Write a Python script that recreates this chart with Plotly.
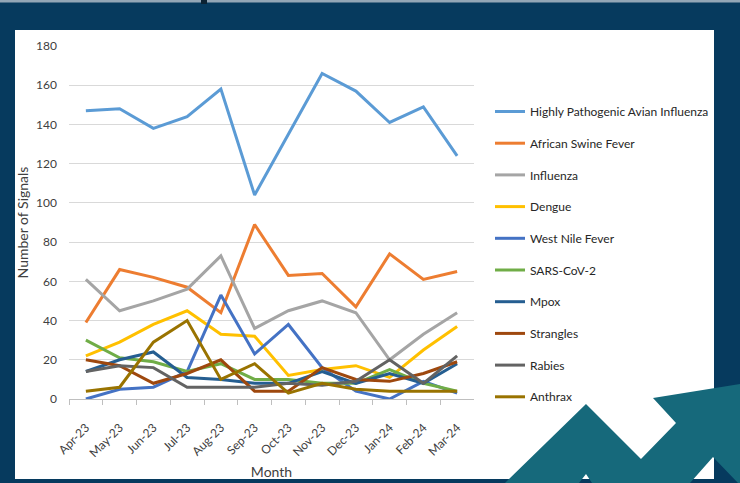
import plotly.graph_objects as go

W, H = 740, 483

months = ["Apr-23", "May-23", "Jun-23", "Jul-23", "Aug-23", "Sep-23",
          "Oct-23", "Nov-23", "Dec-23", "Jan-24", "Feb-24", "Mar-24"]

hpai = [147, 148, 138, 144, 158, 104, 135, 166, 157, 141, 149, 124]
asf = [39, 66, 62, 57, 44, 89, 63, 64, 47, 74, 61, 65]
influenza = [61, 45, 50, 56, 73, 36, 45, 50, 44, 20, 33, 44]
dengue = [22, 29, 38, 45, 33, 32, 12, 15, 17, 11, 25, 37]
west_nile = [0, 5, 6, 14, 53, 23, 38, 16, 4, 0, 9, 3]
sars_cov_2 = [30, 21, 19, 14, 18, 10, 10, 8, 8, 15, 8, 4]
mpox = [14, 20, 24, 11, 10, 8, 8, 14, 8, 13, 8, 18]
strangles = [20, 17, 8, 13, 20, 4, 4, 16, 10, 9, 13, 19]
rabies = [14, 17, 16, 6, 6, 6, 8, 7, 9, 20, 8, 22]
anthrax = [4, 6, 29, 40, 10, 18, 3, 8, 5, 4, 4, 4]

series_names = ["Highly Pathogenic Avian Influenza", "African Swine Fever", "Influenza",
                "Dengue", "West Nile Fever", "SARS-CoV-2", "Mpox", "Strangles",
                "Rabies", "Anthrax"]
series_values = [hpai, asf, influenza, dengue, west_nile, sars_cov_2, mpox,
                 strangles, rabies, anthrax]
series_colors = ["#5B9BD5", "#ED7D31", "#A5A5A5", "#FFC000", "#4472C4",
                 "#70AD47", "#255E91", "#9E480E", "#636363", "#997300"]

y_ticks = [0, 20, 40, 60, 80, 100, 120, 140, 160, 180]

NAVY = "#063A5E"
TEAL = "#16697B"
FONT = "Lato"


def px(x):
    return x / W


def py(y):
    return 1 - y / H


fig = go.Figure()
for name, vals, col in zip(series_names, series_values, series_colors):
    fig.add_trace(go.Scatter(
        x=months, y=vals, name=name, mode="lines",
        line=dict(color=col, width=3),
        legendgroup=name,
    ))

shapes = [
    # white chart panel
    dict(type="rect", xref="paper", yref="paper", x0=px(15), x1=px(714),
         y0=py(479), y1=py(30), fillcolor="white", line=dict(width=0), layer="below"),
    # top light strip
    dict(type="rect", xref="paper", yref="paper", x0=0, x1=1,
         y0=py(2.5), y1=1, fillcolor="#93A6B6", line=dict(width=0), layer="below"),
    dict(type="rect", xref="paper", yref="paper", x0=px(201), x1=px(207),
         y0=py(4), y1=1, fillcolor="#0B2233", line=dict(width=0), layer="below"),
]

arrow_pts = [(505, 483), (586, 404), (641, 459), (676, 423), (653, 398), (740, 384),
             (740, 483), (738, 483), (713, 457), (690, 483), (592, 483), (586, 474),
             (579, 483)]
path = "M " + " L ".join(f"{px(x):.5f},{py(y):.5f}" for x, y in arrow_pts) + " Z"
shapes.append(dict(type="path", xref="paper", yref="paper", path=path,
                   fillcolor=TEAL, line=dict(width=0), layer="above"))

fig.update_layout(
    width=W, height=H,
    margin=dict(l=0, r=0, t=0, b=0),
    paper_bgcolor=NAVY,
    plot_bgcolor="white",
    font=dict(family=FONT, color="#404040"),
    shapes=shapes,
    xaxis=dict(
        domain=[px(69), px(474)],
        type="category",
        range=[-0.5, len(months) - 0.5],
        tickangle=-45,
        tickson="boundaries",
        ticks="outside", ticklen=5, tickcolor="#BFBFBF",
        showline=True, linecolor="#BFBFBF", linewidth=1,
        showgrid=False, zeroline=False,
        tickfont=dict(size=12, color="#404040", family=FONT),
        ticklabelstandoff=16,
        title=dict(text="Month", font=dict(size=14, color="#404040", family=FONT), standoff=8),
        automargin=False,
    ),
    yaxis=dict(
        domain=[py(399), py(46)],
        range=[0, 180],
        tickvals=y_ticks,
        ticktext=[str(v) for v in y_ticks],
        showgrid=True, gridcolor="#D9D9D9", gridwidth=1,
        zeroline=False, showline=False, ticks="",
        tickfont=dict(size=12, color="#404040", family=FONT),
        ticklabelstandoff=11,
        title=dict(text="Number of Signals", font=dict(size=14, color="#404040", family=FONT), standoff=4),
        automargin=False,
    ),
    legend=dict(
        x=px(490), y=py(97), xanchor="left", yanchor="top",
        bgcolor="rgba(0,0,0,0)",
        font=dict(size=12, color="#262626", family=FONT),
        tracegroupgap=12.7,
        itemwidth=30,
    ),
    showlegend=True,
)

fig.write_html(
    "out.html",
    config={"displayModeBar": False},
    post_script="document.body.style.margin='0';document.body.style.padding='0';"
                "document.body.style.overflow='hidden';document.body.style.background='%s';" % NAVY,
)
